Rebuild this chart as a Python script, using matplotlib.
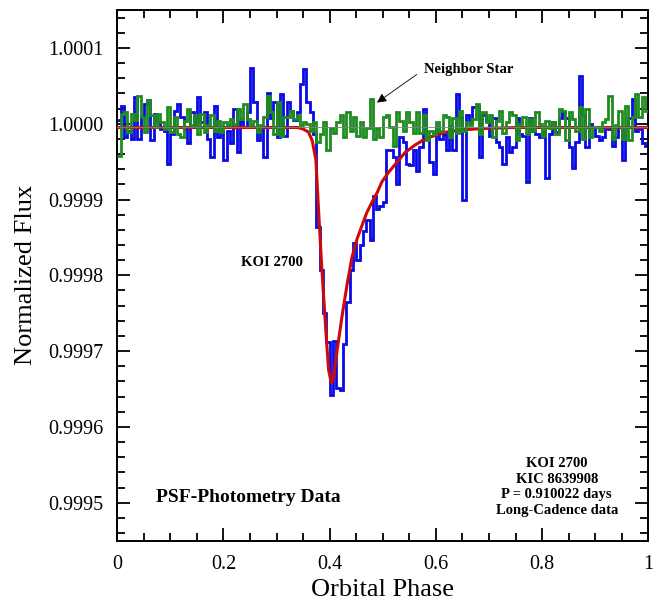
import numpy as np
import matplotlib
matplotlib.use("Agg")
import matplotlib.pyplot as plt

# Fonte tipo Times
plt.rcParams["font.family"] = "serif"
plt.rcParams["font.serif"] = ["Liberation Serif", "DejaVu Serif"]

# Nivel base das curvas (a linha cinza fica um pouco abaixo de 1.0000)
BASELINE = 0.999995

# Fluxo KOI 2700 (azul), desvio em ppm, 160 bins de fase
blue_ppm = [10, 29, -13, -4, -15, 40, -15, 14, 31, 36,
            -17, 18, 7, -2, -4, -48, -8, 22, 31, 14,
            -2, -21, 20, 5, 40, 7, 20, -15, -39, 29,
            -13, 0, -43, -4, -21, 24, -32, 9, 0, 20,
            78, 33, -17, 0, -39, 46, 12, 33, -13, 44,
            -11, 33, 22, 10, 20, 58, 77, 33, 20, -8,
            -131, -188, -245, -283, -353, -281, -344, -346, -285, -230,
            -188, -153, -175, -155, -136, -122, -149, -90, -107, -103,
            -98, -30, -30, -39, -74, -13, -19, -48, -50, -30,
            -57, -26, 24, -15, -46, -61, 0, -15, -8, -30,
            2, -30, 44, 14, -96, 16, 7, 27, 29, -39,
            16, 9, -11, 12, -19, -26, -48, -13, -32, -26,
            13, -8, -11, -72, 12, -4, -8, -13, -4, -67,
            -8, 7, -6, 12, 20, 13, -26, -54, -19, 68,
            16, -26, 5, 0, -11, -17, -13, 0, -2, -24,
            -13, 0, -43, 0, 13, 37, -4, -2, -21, -24]

# Estrela vizinha (verde), desvio em ppm
green_ppm = [-37, 18, 20, -6, 18, 10, 41, 14, -6, 36,
             16, 0, 18, 7, -2, 27, -6, 14, -8, -13,
             9, 25, 3, 16, -8, 18, -6, 3, 16, -4,
             9, -6, 7, 3, 11, 5, 25, 11, 31, 11,
             3, 9, -6, 3, 14, 41, 20, -8, 33, -11,
             14, 14, 22, 11, 16, 3, 7, 5, -4, 7,
             -19, -9, 7, -30, -1, -7, 7, 16, -13, 20,
             -4, 14, -11, 7, -13, -1, 38, -15, -1, -13,
             14, 16, 0, -24, 20, 9, -4, 20, 7, -7,
             20, -7, 16, -17, -4, -8, 7, -4, 16, 14,
             -13, 12, -7, 22, -4, 7, 3, 11, 31, -8,
             20, 7, 16, -13, 9, 22, -7, 7, 20, 16,
             -17, 5, 14, -8, 11, -4, 20, 5, -11, 9,
             -1, 7, -8, 24, 22, -17, 20, 11, -4, 27,
             -15, 24, -13, 0, 0, -4, 7, 11, 42, -15,
             3, 22, -15, 29, -17, 14, 44, 14, 40, 22]

# Modelo (vermelho), pontos
red_phase = [0.0, 0.34, 0.35, 0.36, 0.367, 0.374, 0.378, 0.385, 0.393, 0.398,
             0.403, 0.407, 0.414, 0.423, 0.433, 0.442, 0.452, 0.461, 0.470, 0.480,
             0.490, 0.498, 0.510, 0.524, 0.542, 0.561, 0.580, 0.600, 0.620, 0.650,
             0.700, 0.750, 1.0]
red_ppm = [0, 0, -2, -6, -17, -43, -96, -184, -271, -320,
           -337, -331, -294, -250, -206, -171, -146, -129, -112, -98,
           -85, -72, -60, -48, -33, -23, -15, -10, -6, -3,
           -1, 0, 0]

blue_flux = BASELINE + np.array(blue_ppm) * 1e-6
green_flux = BASELINE + np.array(green_ppm) * 1e-6
red_flux = BASELINE + np.array(red_ppm) * 1e-6
edges = np.linspace(0, 1, len(blue_ppm) + 1)

fig = plt.figure(figsize=(6.68, 6.05), dpi=100)
ax = fig.add_axes([0.1756, 0.1063, 0.7949, 0.8772])

ax.stairs(blue_flux, edges, baseline=None, color="#0a0ae6", linewidth=2.0, zorder=2)
ax.plot(red_phase, red_flux, color="#cc0a0a", linewidth=2.2, zorder=3)
ax.stairs(green_flux, edges, baseline=None, color="#1e8c1e", linewidth=2.0, zorder=4)
ax.axhline(BASELINE, color="gray", linewidth=0.6, zorder=5)

ax.set_xlim(0, 1)
ax.set_ylim(0.99945, 1.00015)
ax.set_xticks([0, 0.2, 0.4, 0.6, 0.8, 1.0])
ax.set_xticklabels(["0", "0.2", "0.4", "0.6", "0.8", "1"])
ax.set_xticks(np.arange(0, 1.0001, 0.05), minor=True)
yt = [0.9995, 0.9996, 0.9997, 0.9998, 0.9999, 1.0000, 1.0001]
ax.set_yticks(yt)
ax.set_yticklabels(["%.4f" % v for v in yt])
ax.set_yticks(np.arange(0.99946, 1.00015, 0.00002), minor=True)

ax.tick_params(which="both", direction="in", top=True, right=True, width=1.3,
               labelsize=14.5, pad=10)
ax.tick_params(which="major", length=9.5)
ax.tick_params(which="minor", length=5.5)
for s in ax.spines.values():
    s.set_linewidth(1.4)

ax.set_xlabel("Orbital Phase", fontsize=19, labelpad=4)
ax.set_ylabel("Normalized Flux", fontsize=19, labelpad=8)

# Anotacoes
ax.text(0.578, 1.000071, "Neighbor Star", fontsize=10.6, fontweight="bold",
        ha="left", va="center")
ax.annotate("", xy=(0.489, 1.0000278), xytext=(0.564, 1.000065),
            arrowprops=dict(arrowstyle="-|>", color="black", lw=0.6,
                            mutation_scale=14, shrinkA=0, shrinkB=0))
ax.text(0.292, 0.999817, "KOI 2700", fontsize=10.6, fontweight="bold",
        ha="center", va="center")
ax.text(0.246, 0.999507, "PSF-Photometry Data", fontsize=14, fontweight="bold",
        ha="center", va="center")
ax.text(0.8275, 0.999521, "KOI 2700\nKIC 8639908\nP = 0.910022 days\nLong-Cadence data",
        fontsize=10.5, fontweight="bold", ha="center", va="center", linespacing=1.25)

fig.savefig("out.png", dpi=100)
